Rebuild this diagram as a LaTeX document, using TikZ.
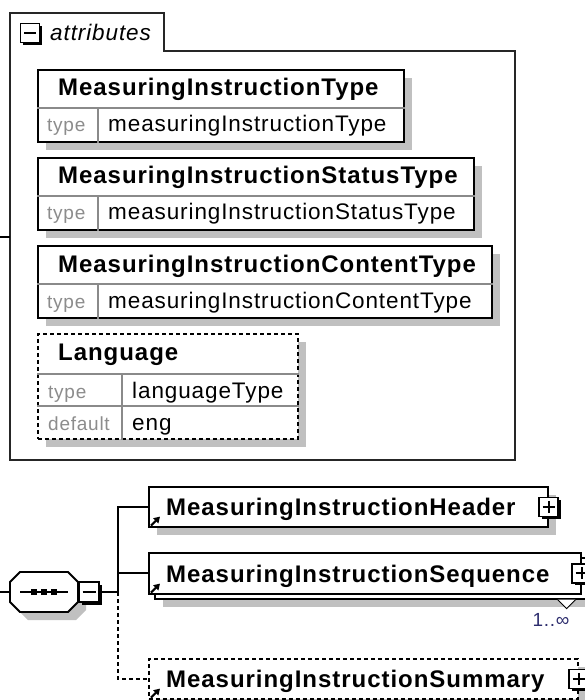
\documentclass[tikz,border=0pt]{standalone}
\usepackage{fontspec}
\setmainfont{Liberation Sans}
\newfontfamily\xsdfont[LetterSpace=4]{Liberation Sans}
\usetikzlibrary{positioning,shadows,arrows.meta}
\definecolor{shadowgray}{HTML}{C0C0C0}
\definecolor{labelgray}{HTML}{8C8C8C}
\definecolor{cellgray}{HTML}{8A8A8A}
\definecolor{occurblue}{HTML}{2E2E6E}
\tikzset{elframe/.style={draw, line width=1.6pt, fill=white, anchor=north west, inner sep=0pt}}
\tikzset{elbox/.style={elframe, drop shadow={shadow xshift=8pt, shadow yshift=-8pt, fill=shadowgray, opacity=1}}}
\tikzset{optional/.style={dash pattern=on 4pt off 3pt}}
\tikzset{cell/.style={draw=cellgray, line width=1.3pt}}
\tikzset{conn/.style={line width=1.8pt}}
\tikzset{
  elname/.style={inner sep=0pt, anchor=base west, font={\xsdfont\bfseries\fontsize{24pt}{28pt}\selectfont}},
  valtext/.style={inner sep=0pt, anchor=base west, font={\xsdfont\fontsize{22.5pt}{26pt}\selectfont}},
  lbltext/.style={inner sep=0pt, anchor=base west, text=labelgray, font={\xsdfont\fontsize{19pt}{23pt}\selectfont}},
  expbox/.style={draw, fill=white, line width=1.6pt, minimum size=19pt, inner sep=0pt,
    drop shadow={shadow xshift=2.6pt, shadow yshift=-2.6pt, fill=black, opacity=1}},
  plusbox/.style={expbox, path picture={\draw[line width=1.8pt]
    ([xshift=3.5pt]path picture bounding box.west) -- ([xshift=-3.5pt]path picture bounding box.east)
    ([yshift=-3.5pt]path picture bounding box.north) -- ([yshift=3.5pt]path picture bounding box.south);}},
  minusbox/.style={expbox, path picture={\draw[line width=1.8pt]
    ([xshift=3.5pt]path picture bounding box.west) -- ([xshift=-3.5pt]path picture bounding box.east);}},
  refarrow/.style={line width=2.2pt, -{Triangle[length=6pt,width=7pt]}}
}

\begin{document}
\begin{tikzpicture}[x=1pt,y=-1pt]
\useasboundingbox (0,0) rectangle (585,700);

% attributes group
\draw[line width=1.8pt, draw=black!85] (10,460) -- (10,13) -- (164,13) -- (164,51)
  -- (515,51) -- (515,460) -- cycle;
\node[minusbox] (attrMinus) at (30,33) {};
\node[inner sep=0pt, anchor=base west, font={\xsdfont\itshape\fontsize{22.5pt}{26pt}\selectfont}]
  (attrTitle) at (50,41) {attributes};
\coordinate (inAttrs) at (0,237);
\coordinate (attrsIn) at (10,237);
\draw[conn] (inAttrs) -- (attrsIn);

\foreach \nm/\ty/\bw/\hd/\vl in {
  aType/69/366/MeasuringInstructionType/measuringInstructionType,
  aStatus/157/436/MeasuringInstructionStatusType/measuringInstructionStatusType,
  aContent/245/454/MeasuringInstructionContentType/measuringInstructionContentType}{
  \node[elbox, minimum width=\bw pt, minimum height=72pt] (\nm) at (37,\ty) {};
  \draw[cell] ([yshift=-39pt]\nm.north west) -- ([yshift=-39pt]\nm.north east);
  \draw[cell] ([xshift=61pt,yshift=-39pt]\nm.north west) -- ([xshift=61pt]\nm.south west);
  \node[elname] (\nm-head) at ([xshift=21pt,yshift=-27pt]\nm.north west) {\hd};
  \node[lbltext] (\nm-lbl) at ([xshift=10pt,yshift=-63pt]\nm.north west) {type};
  \node[valtext] (\nm-val) at ([xshift=71pt,yshift=-63pt]\nm.north west) {\vl};
}

\node[elbox, optional, minimum width=260pt, minimum height=105pt] (aLang) at (37,333) {};
\draw[cell] ([yshift=-41pt]aLang.north west) -- ([yshift=-41pt]aLang.north east);
\draw[cell] ([yshift=-73pt]aLang.north west) -- ([yshift=-73pt]aLang.north east);
\draw[cell] ([xshift=85pt,yshift=-41pt]aLang.north west) -- ([xshift=85pt]aLang.south west);
\node[elname] (aLang-head) at ([xshift=21pt,yshift=-27pt]aLang.north west) {Language};
\node[lbltext] (aLang-lbl1) at ([xshift=11pt,yshift=-65pt]aLang.north west) {type};
\node[valtext] (aLang-val1) at ([xshift=95pt,yshift=-65pt]aLang.north west) {languageType};
\node[lbltext] (aLang-lbl2) at ([xshift=11pt,yshift=-97pt]aLang.north west) {default};
\node[valtext] (aLang-val2) at ([xshift=95pt,yshift=-97pt]aLang.north west) {eng};

% sequence compositor
\fill[shadowgray] (28,580) -- (76,580) -- (86,590) -- (86,610) -- (76,620) -- (28,620)
  -- (18,610) -- (18,590) -- cycle;
\draw[conn, fill=white] (20,572) -- (68,572) -- (78,582) -- (78,602) -- (68,612) -- (20,612)
  -- (10,602) -- (10,582) -- cycle;
\node[inner sep=0pt, minimum width=68pt, minimum height=40pt, anchor=west] (seqComp) at (10,592) {};
\draw[line width=1.6pt] ([xshift=10pt]seqComp.west) -- ([xshift=-10pt]seqComp.east);
\foreach \dx in {-10,0,10}
  \fill ([xshift=\dx pt]seqComp.center) ++(-3,-3) rectangle ++(6,6);
\node[minusbox, minimum size=20pt, anchor=west] (seqMinus) at (seqComp.east) {};

% child elements
\node[elbox, minimum width=399pt, minimum height=40pt] (elHeader) at (148,486) {};
\node[elname] (elHeaderName) at (166,515) {MeasuringInstructionHeader};
\node[plusbox] (hdrPlus) at (elHeader.east) {};

\node[elbox, minimum width=436pt, minimum height=41pt] (elSeqBack) at (154,557) {};
\draw[fill=white, line width=1pt] ([xshift=-34pt]elSeqBack.south east) -- ++(9,9) -- ++(9,-9);
\node[elframe, minimum width=432pt, minimum height=41pt] (elSeq) at (148,552) {};
\node[elname] (elSeqName) at (166,582) {MeasuringInstructionSequence};
\node[plusbox] (seqPlus) at (elSeq.east) {};
\node[inner sep=0pt, text=occurblue, font={\xsdfont\fontsize{19pt}{23pt}\selectfont}]
  (seqOccurs) at (551,620) {1..∞};

\node[elbox, optional, minimum width=429pt, minimum height=40pt] (elSummary) at (148,658) {};
\node[elname] (elSummaryName) at (166,687) {MeasuringInstructionSummary};
\node[plusbox] (sumPlus) at (elSummary.east) {};

\foreach \el in {elHeader, elSeq, elSummary}
  \draw[refarrow] ([xshift=3pt,yshift=2pt]\el.south west) -- ++(9,-9);

% connectors
\coordinate (inSeq) at (0,592);
\coordinate (fork) at (118,592);
\draw[conn] (inSeq) -- (seqComp.west);
\draw[conn] (seqMinus.east) -- (fork);
\draw[conn] (fork) |- (elHeader.west);
\draw[conn] (fork) |- (elSeq.west);
\draw[conn, optional] (fork) |- (elSummary.west);
\end{tikzpicture}
\end{document}
